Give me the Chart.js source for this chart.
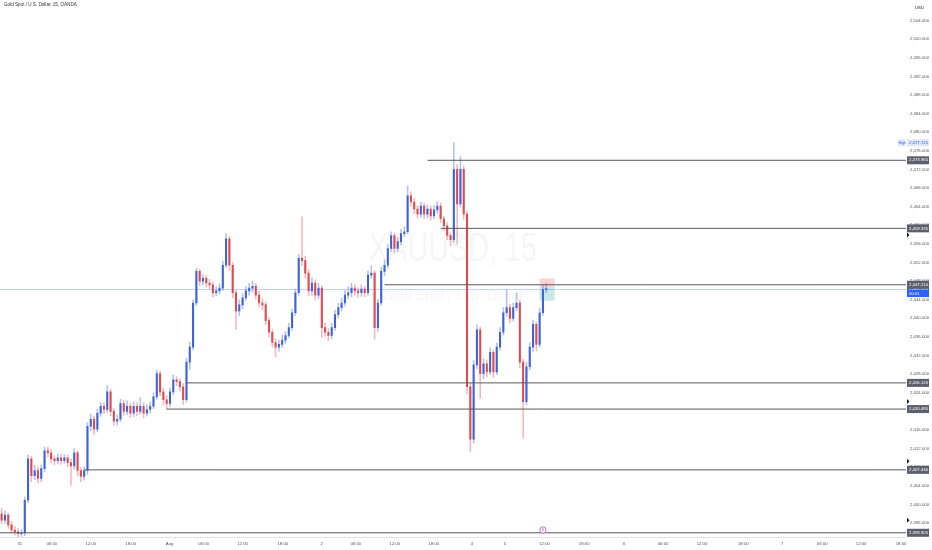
<!DOCTYPE html>
<html>
<head>
<meta charset="utf-8">
<script src="https://cdn.jsdelivr.net/npm/chart.js@4/dist/chart.umd.min.js"></script>
<style>
  html, body { margin: 0; padding: 0; background: #fff; overflow: hidden; }
  #wrap { position: relative; width: 932px; height: 550px; }
</style>
</head>
<body>
<div id="wrap"><canvas id="c"></canvas></div>
<script>
// XAUUSD 30-min candles (index = bar number)
const openP = [
  2398.0,2396.6,2397.7,2395.6,2394.5,2394.1,2393.7,2393.9,2400.9,2409.8,
  2406.2,2407.3,2405.6,2407.7,2411.5,2411.1,2409.8,2409.4,2410.0,2409.4,
  2410.0,2409.0,2408.3,2411.1,2407.3,2406.0,2407.3,2416.8,2418.3,2416.2,
  2419.6,2421.1,2420.4,2424.2,2420.0,2417.9,2418.3,2421.7,2420.0,2421.1,
  2419.6,2421.1,2420.0,2421.1,2419.6,2420.4,2421.1,2423.1,2428.1,2424.2,
  2422.5,2421.7,2424.2,2426.8,2426.4,2425.3,2422.5,2430.6,2433.8,2443.3,
  2450.1,2448.0,2448.6,2447.6,2447.2,2445.5,2445.9,2446.5,2451.4,2457.1,
  2451.4,2445.5,2441.6,2442.9,2444.4,2445.9,2446.5,2446.9,2445.0,2443.3,
  2442.9,2439.5,2437.0,2434.8,2433.8,2434.4,2435.3,2436.3,2438.0,2441.2,
  2445.5,2452.9,2452.4,2449.7,2445.9,2447.6,2445.0,2446.5,2438.0,2437.0,
  2436.3,2438.0,2440.8,2442.3,2443.3,2445.0,2445.5,2446.5,2445.9,2445.5,
  2446.3,2445.5,2449.3,2449.7,2438.0,2443.3,2450.1,2451.4,2455.0,2457.8,
  2455.0,2456.5,2458.2,2458.6,2466.3,2465.0,2463.5,2462.4,2464.1,2462.4,
  2463.5,2462.0,2463.3,2464.1,2461.4,2459.9,2457.8,2456.9,2472.0,2464.6,
  2472.0,2462.4,2425.3,2414.0,2430.0,2437.5,2428.1,2430.2,2428.5,2432.7,
  2428.5,2433.8,2437.0,2441.2,2442.3,2440.0,2442.3,2443.3,2430.6,2422.1,
  2429.6,2433.8,2438.7,2434.4,2441.2,2446.2
];
const highP = [
  2399.2,2398.6,2398.2,2396.3,2395.3,2394.9,2394.6,2401.6,2410.6,2410.4,
  2408.4,2408.1,2408.5,2412.3,2412.4,2411.8,2410.5,2410.9,2410.8,2410.7,
  2410.6,2409.8,2412.0,2411.5,2408.0,2408.0,2417.6,2419.4,2419.0,2420.5,
  2422.0,2421.9,2425.6,2424.8,2420.6,2419.2,2422.6,2422.4,2422.3,2421.8,
  2422.0,2421.9,2423.0,2421.9,2421.4,2422.0,2424.0,2428.9,2428.6,2425.0,
  2423.4,2425.0,2427.8,2427.5,2427.0,2426.0,2431.4,2434.9,2444.0,2450.8,
  2450.6,2449.4,2449.3,2448.4,2447.9,2446.9,2447.4,2452.3,2458.2,2457.6,
  2452.0,2446.0,2444.0,2445.3,2446.8,2447.6,2448.0,2447.5,2445.8,2444.2,
  2443.5,2440.2,2437.7,2435.6,2435.3,2436.4,2437.2,2438.9,2442.0,2446.3,
  2453.8,2461.8,2453.4,2450.5,2448.7,2448.3,2447.5,2447.0,2439.0,2437.8,
  2438.9,2441.7,2443.2,2444.3,2446.0,2446.8,2447.6,2447.3,2446.6,2447.2,
  2446.9,2450.2,2451.3,2450.2,2444.1,2451.0,2452.5,2455.9,2458.6,2458.3,
  2457.4,2459.1,2459.7,2468.4,2467.2,2465.8,2464.2,2465.0,2464.8,2464.4,
  2464.2,2464.3,2465.1,2464.8,2462.0,2460.5,2458.4,2477.7,2473.1,2474.7,
  2472.8,2463.0,2426.2,2431.0,2438.6,2438.1,2431.3,2431.0,2433.7,2433.3,
  2434.7,2438.0,2442.3,2446.1,2443.0,2443.3,2445.5,2443.9,2431.2,2430.6,
  2434.8,2439.6,2439.2,2442.2,2447.3,2447.5
];
const lowP = [
  2395.8,2395.9,2394.9,2393.8,2393.4,2392.9,2393.1,2393.3,2400.4,2404.9,
  2405.3,2404.6,2404.9,2407.0,2410.2,2409.0,2408.5,2408.7,2408.6,2408.8,
  2408.1,2404.1,2407.6,2406.1,2404.9,2405.2,2406.4,2415.8,2415.1,2415.6,
  2418.9,2419.5,2419.8,2419.1,2417.0,2417.1,2417.8,2419.2,2419.3,2418.7,
  2418.9,2419.1,2419.4,2418.6,2419.0,2419.6,2420.6,2422.6,2423.3,2421.4,
  2420.5,2421.0,2423.6,2425.5,2424.4,2421.5,2422.0,2429.0,2433.2,2442.7,
  2447.0,2447.2,2446.7,2446.3,2444.6,2444.8,2445.2,2446.0,2450.9,2450.3,
  2444.4,2437.6,2440.5,2442.0,2443.8,2445.0,2445.6,2444.1,2442.5,2441.8,
  2438.6,2436.0,2433.9,2431.7,2432.9,2433.7,2434.6,2435.8,2437.4,2440.6,
  2444.9,2451.3,2448.6,2444.8,2445.0,2443.9,2444.2,2436.0,2436.1,2435.2,
  2435.6,2437.4,2440.1,2441.6,2442.6,2444.2,2444.6,2445.0,2444.5,2444.7,
  2444.6,2444.9,2448.6,2435.5,2437.2,2442.8,2449.2,2450.8,2454.4,2454.0,
  2454.3,2455.8,2457.5,2458.1,2464.1,2462.5,2461.5,2461.7,2461.4,2461.6,
  2461.1,2461.4,2462.6,2460.5,2458.9,2456.9,2455.6,2456.3,2456.0,2463.9,
  2461.3,2423.8,2411.3,2413.2,2429.2,2422.8,2427.0,2427.4,2427.9,2427.3,
  2427.9,2433.1,2436.4,2440.4,2439.0,2439.4,2441.6,2429.4,2414.3,2421.4,
  2428.9,2432.9,2433.0,2433.8,2440.6,2445.5
];
const closeP = [
  2396.6,2397.7,2395.6,2394.5,2394.1,2393.7,2393.9,2400.9,2409.8,2406.2,
  2407.3,2405.6,2407.7,2411.5,2411.1,2409.8,2409.4,2410.0,2409.4,2410.0,
  2409.0,2408.3,2411.1,2407.3,2406.0,2407.3,2416.8,2418.3,2416.2,2419.6,
  2421.1,2420.4,2424.2,2420.0,2417.9,2418.3,2421.7,2420.0,2421.1,2419.6,
  2421.1,2420.0,2421.1,2419.6,2420.4,2421.1,2423.1,2428.1,2424.2,2422.5,
  2421.7,2424.2,2426.8,2426.4,2425.3,2422.5,2430.6,2433.8,2443.3,2450.1,
  2448.0,2448.6,2447.6,2447.2,2445.5,2445.9,2446.5,2451.4,2457.1,2451.4,
  2445.5,2441.6,2442.9,2444.4,2445.9,2446.5,2446.9,2445.0,2443.3,2442.9,
  2439.5,2437.0,2434.8,2433.8,2434.4,2435.3,2436.3,2438.0,2441.2,2445.5,
  2452.9,2452.4,2449.7,2445.9,2447.6,2445.0,2446.5,2438.0,2437.0,2436.3,
  2438.0,2440.8,2442.3,2443.3,2445.0,2445.5,2446.5,2445.9,2445.5,2446.3,
  2445.5,2449.3,2449.7,2438.0,2443.3,2450.1,2451.4,2455.0,2457.8,2455.0,
  2456.5,2458.2,2458.6,2466.3,2465.0,2463.5,2462.4,2464.1,2462.4,2463.5,
  2462.0,2463.3,2464.1,2461.4,2459.9,2457.8,2456.9,2472.0,2464.6,2472.0,
  2462.4,2425.3,2414.0,2430.0,2437.5,2428.1,2430.2,2428.5,2432.7,2428.5,
  2433.8,2437.0,2441.2,2442.3,2440.0,2442.3,2443.3,2430.6,2422.1,2429.6,
  2433.8,2438.7,2434.4,2441.2,2446.2,2446.4
];

// horizontal levels drawn by the author, and the bar where each starts
const levelPrices = [2473.965, 2459.335, 2447.210, 2426.120, 2420.495, 2407.430, 2393.905];
const levelStarts = [129, 133, 116, 56, 50, 25, -0.5];
const lastPrice = 2446.395;
const highPrice = 2477.725;
const markerPrices = [2457.9, 2422.1, 2409.3, 2396.6];
// long/short position tool near the last bar
const posBar = [163, 167.5];
const posStop = 2448.6, posEntry = 2446.6, posTarget = 2443.8;

const yTicks = [2396,2400,2404,2408,2412,2416,2420,2424,2428,2432,2436,2440,2444,2448,
                2452,2456,2460,2464,2468,2472,2476,2480,2484,2488,2492,2496,2500,2504];
const xTickPos = [5.5,15.2,27,39.1,50.9,61.2,73,85.2,97,107.3,119.1,130.9,
                  142.5,152.5,164.5,176.5,188.6,200.4,212.2,224.7,236.5,248.6,260.4,272.5];
const xTickLabels = ['31','06:00','12:00','18:00','Aug','06:00','12:00','18:00','2','06:00','12:00','18:00',
                     '4','5','12:00','18:00','6','06:00','12:00','18:00','7','06:00','12:00','18:00'];

const X_MIN = -0.5, X_MAX = 274;
const UP = '#3c63dc', DOWN = '#e04a4f';
const UP_WICK = 'rgba(60,99,220,0.4)', DOWN_WICK = 'rgba(224,74,79,0.4)';
const FONT = '"Liberation Sans", Arial, sans-serif';
const LBL = 4.3;

const fmt = v => v.toLocaleString('en-US', { minimumFractionDigits: 3, maximumFractionDigits: 3 });
const isUp = closeP.map((c, i) => c >= openP[i]);

const wickData = closeP.map((c, i) => ({ x: i, y: [lowP[i], highP[i]] }));
const bodyData = closeP.map((c, i) => ({ x: i, y: [openP[i], c] }));

const levelSets = levelPrices.map((p, i) => ({
  type: 'line',
  data: [{ x: levelStarts[i], y: p }, { x: X_MAX, y: p }],
  borderColor: '#5a5a5a',
  borderWidth: 1,
  pointRadius: 0,
  order: 0
}));

const decor = {
  id: 'decor',
  beforeDatasetsDraw(chart) {
    const { ctx, chartArea: a, scales: { x, y } } = chart;
    ctx.save();
    // watermark
    const cx = (a.left + a.right) / 2, cy = (a.top + a.bottom) / 2;
    ctx.fillStyle = 'rgba(42,46,57,0.045)';
    ctx.textAlign = 'center';
    ctx.textBaseline = 'middle';
    ctx.save();
    ctx.translate(cx, cy - 22);
    ctx.scale(0.72, 1);
    ctx.font = '40px ' + FONT;
    ctx.fillText('XAUUSD, 15', 0, 0);
    ctx.restore();
    ctx.font = '14px ' + FONT;
    ctx.fillText('Gold Spot / U.S. Dollar', cx, cy + 24);

    // position tool boxes
    const x0 = x.getPixelForValue(posBar[0]), x1 = x.getPixelForValue(posBar[1]);
    ctx.fillStyle = 'rgba(242,54,69,0.22)';
    ctx.fillRect(x0, y.getPixelForValue(posStop), x1 - x0, y.getPixelForValue(posEntry) - y.getPixelForValue(posStop));
    ctx.fillStyle = 'rgba(8,153,129,0.22)';
    ctx.fillRect(x0, y.getPixelForValue(posEntry), x1 - x0, y.getPixelForValue(posTarget) - y.getPixelForValue(posEntry));

    // last price line
    const ly = Math.round(y.getPixelForValue(lastPrice)) + 0.5;
    ctx.strokeStyle = 'rgba(41,98,255,0.28)';
    ctx.lineWidth = 1;
    ctx.beginPath(); ctx.moveTo(a.left, ly); ctx.lineTo(a.right, ly); ctx.stroke();
    ctx.restore();
  },
  afterDraw(chart) {
    const { ctx, chartArea: a, scales: { x, y } } = chart;
    ctx.save();
    // time axis border
    ctx.strokeStyle = '#e0e3eb';
    ctx.lineWidth = 1;
    ctx.beginPath();
    ctx.moveTo(a.left, a.bottom + 0.5); ctx.lineTo(a.right, a.bottom + 0.5);
    ctx.stroke();

    ctx.textBaseline = 'middle';
    ctx.textAlign = 'left';
    const tag = (p, text, bg, fg, h) => {
      const py = y.getPixelForValue(p);
      ctx.fillStyle = bg;
      ctx.fillRect(a.right + 1, py - h / 2, 22, h);
      ctx.fillStyle = fg;
      ctx.font = LBL + 'px ' + FONT;
      ctx.fillText(text, a.right + 3, py);
    };

    // last price tag with countdown
    const lp = y.getPixelForValue(lastPrice);
    ctx.fillStyle = '#2962ff';
    ctx.fillRect(a.right + 1, lp - 4.5, 22, 13);
    ctx.fillStyle = '#fff';
    ctx.font = LBL + 'px ' + FONT;
    ctx.fillText(fmt(lastPrice), a.right + 3, lp);
    ctx.fillText('00:01', a.right + 3, lp + 5);

    levelPrices.forEach(p => tag(p, fmt(p), '#5d606b', '#fff', 8));

    // session high
    const hy = y.getPixelForValue(highPrice);
    ctx.fillStyle = '#dfe7fd';
    ctx.fillRect(a.right + 1, hy - 3.5, 22, 7);
    ctx.fillRect(a.right - 8, hy - 3.5, 7, 7);
    ctx.fillStyle = '#2962ff';
    ctx.font = LBL + 'px ' + FONT;
    ctx.fillText(fmt(highPrice), a.right + 3, hy);
    ctx.font = '3.6px ' + FONT;
    ctx.fillText('High', a.right - 7.5, hy);

    // small alert markers on the price scale
    ctx.fillStyle = '#131722';
    markerPrices.forEach(p => {
      const my = y.getPixelForValue(p);
      ctx.beginPath();
      ctx.moveTo(a.right + 1, my - 2.5);
      ctx.lineTo(a.right + 3.5, my);
      ctx.lineTo(a.right + 1, my + 2.5);
      ctx.closePath();
      ctx.fill();
    });

    // currency label and title
    ctx.fillStyle = '#131722';
    ctx.font = LBL + 'px ' + FONT;
    ctx.fillText('USD', a.right + 9, 8);
    ctx.fillStyle = '#333';
    ctx.font = '4.6px ' + FONT;
    ctx.fillText('Gold Spot / U.S. Dollar, 15, OANDA', 4, 5);

    // event marker on the time axis
    const ex = x.getPixelForValue(164), ey = a.bottom - 7;
    ctx.fillStyle = '#fff';
    ctx.strokeStyle = '#b54bc0';
    ctx.lineWidth = 0.8;
    ctx.beginPath(); ctx.arc(ex, ey, 3.2, 0, Math.PI * 2); ctx.fill(); ctx.stroke();
    ctx.fillStyle = '#b54bc0';
    ctx.textAlign = 'center';
    ctx.font = '3.6px ' + FONT;
    ctx.fillText('E', ex, ey + 0.3);
    ctx.restore();
  }
};

new Chart(document.getElementById('c'), {
  type: 'bar',
  data: {
    datasets: [
      ...levelSets,
      {
        type: 'bar',
        data: bodyData,
        backgroundColor: isUp.map(u => (u ? UP : DOWN)),
        barThickness: 1.4,
        minBarLength: 1,
        grouped: false,
        order: 1
      },
      {
        type: 'bar',
        data: wickData,
        backgroundColor: isUp.map(u => (u ? UP_WICK : DOWN_WICK)),
        barThickness: 0.9,
        grouped: false,
        order: 2
      }
    ]
  },
  options: {
    responsive: true,
    maintainAspectRatio: false,
    animation: false,
    layout: { padding: 0 },
    plugins: { legend: { display: false }, tooltip: { enabled: false } },
    scales: {
      x: {
        type: 'linear',
        min: X_MIN,
        max: X_MAX,
        offset: false,
        grid: { display: false, drawTicks: false },
        border: { display: false },
        afterBuildTicks: s => { s.ticks = xTickPos.map(v => ({ value: v })); },
        afterFit: s => { s.height = 13; },
        ticks: {
          autoSkip: false,
          maxRotation: 0,
          padding: 4,
          color: '#555',
          font: { family: FONT, size: LBL },
          callback: (v, i) => xTickLabels[i]
        }
      },
      y: {
        type: 'linear',
        position: 'right',
        min: 2393,
        max: 2507,
        grid: { display: false, drawTicks: false },
        border: { display: false },
        afterBuildTicks: s => { s.ticks = yTicks.map(v => ({ value: v })); },
        afterFit: s => { s.width = 26; },
        ticks: {
          padding: 4,
          color: '#555',
          font: { family: FONT, size: LBL },
          callback: v => fmt(v)
        }
      }
    }
  },
  plugins: [decor]
});
</script>
</body>
</html>
